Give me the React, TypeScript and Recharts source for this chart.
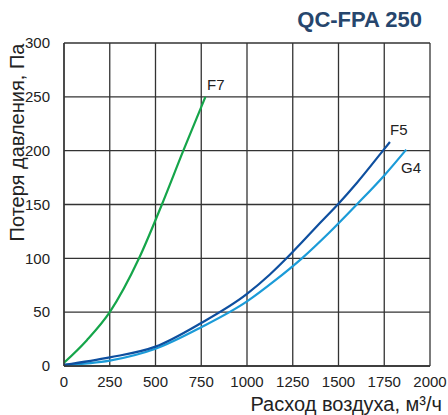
import React from 'react';
import { LineChart, Line, XAxis, YAxis, CartesianGrid, Label } from 'recharts';

// расход воздуха, м3/ч -> потеря давления, Па
const f7Flow = [0, 125, 250, 410, 535, 652, 773];
const f7Loss = [3, 24, 50, 100, 150, 200, 250];

const f5Flow = [0, 250, 500, 750, 1000, 1125, 1216, 1300, 1400, 1496, 1600, 1743, 1781];
const f5Loss = [1, 8, 18, 40, 67, 85, 100, 115, 133, 150, 170, 200, 208];

const g4Flow = [0, 250, 500, 750, 1000, 1150, 1300, 1450, 1600, 1750, 1870];
const g4Loss = [1, 5, 16, 36, 60, 79, 100, 124, 150, 177, 201];

const xTicks = [0, 250, 500, 750, 1000, 1250, 1500, 1750, 2000];
const yTicks = [0, 50, 100, 150, 200, 250, 300];

const toPoints = (xs: number[], ys: number[]) => xs.map((x, i) => ({ x, y: ys[i] }));

const FONT = 'Arial, "Liberation Sans", Helvetica, sans-serif';

const App: React.FC = () => {
    const tick = { fill: '#222', fontSize: 15, fontFamily: FONT };
    return (
        <div style={{ position: 'absolute', left: 0, top: 0, width: 448, height: 415, background: '#fff' }}>
            <div
                style={{
                    position: 'absolute',
                    right: 26,
                    top: 7,
                    fontFamily: FONT,
                    fontWeight: 700,
                    fontSize: 22,
                    color: '#26466d',
                }}
            >
                QC-FPA 250
            </div>
            <LineChart width={448} height={415} margin={{ top: 43, right: 18, left: 0, bottom: 0 }}>
                <CartesianGrid stroke="#333" strokeWidth={1.3} />
                <XAxis
                    type="number"
                    dataKey="x"
                    domain={[0, 2000]}
                    ticks={xTicks}
                    height={49}
                    tickLine={false}
                    axisLine={{ stroke: '#333', strokeWidth: 1.3 }}
                    tickMargin={4}
                    tick={tick}
                    interval={0}
                    allowDataOverflow
                >
                    <Label
                        value="Расход воздуха, м³/ч"
                        position="insideBottomRight"
                        offset={0}
                        dx={12}
                        dy={-4}
                        style={{ fill: '#222', fontSize: 20, fontFamily: FONT }}
                    />
                </XAxis>
                <YAxis
                    type="number"
                    domain={[0, 300]}
                    ticks={yTicks}
                    width={64}
                    tickLine={false}
                    axisLine={{ stroke: '#333', strokeWidth: 1.3 }}
                    tickMargin={8}
                    tick={tick}
                    interval={0}
                >
                    <Label
                        value="Потеря давления, Па"
                        angle={-90}
                        position="insideLeft"
                        offset={0}
                        dx={17}
                        dy={-62}
                        style={{ fill: '#222', fontSize: 20, fontFamily: FONT, textAnchor: 'middle' }}
                    />
                </YAxis>
                <Line
                    data={toPoints(f7Flow, f7Loss)}
                    dataKey="y"
                    type="monotone"
                    stroke="#15a54a"
                    strokeWidth={2.2}
                    dot={false}
                    isAnimationActive={false}
                />
                <Line
                    data={toPoints(g4Flow, g4Loss)}
                    dataKey="y"
                    type="monotone"
                    stroke="#1b9bd8"
                    strokeWidth={2.2}
                    dot={false}
                    isAnimationActive={false}
                />
                <Line
                    data={toPoints(f5Flow, f5Loss)}
                    dataKey="y"
                    type="monotone"
                    stroke="#0e4f9f"
                    strokeWidth={2.2}
                    dot={false}
                    isAnimationActive={false}
                />
            </LineChart>
            <div style={{ position: 'absolute', left: 207, top: 76, fontFamily: FONT, fontSize: 15, color: '#222' }}>F7</div>
            <div style={{ position: 'absolute', left: 390, top: 121, fontFamily: FONT, fontSize: 15, color: '#222' }}>F5</div>
            <div style={{ position: 'absolute', left: 401, top: 159, fontFamily: FONT, fontSize: 15, color: '#222' }}>G4</div>
        </div>
    );
};

export default App;
